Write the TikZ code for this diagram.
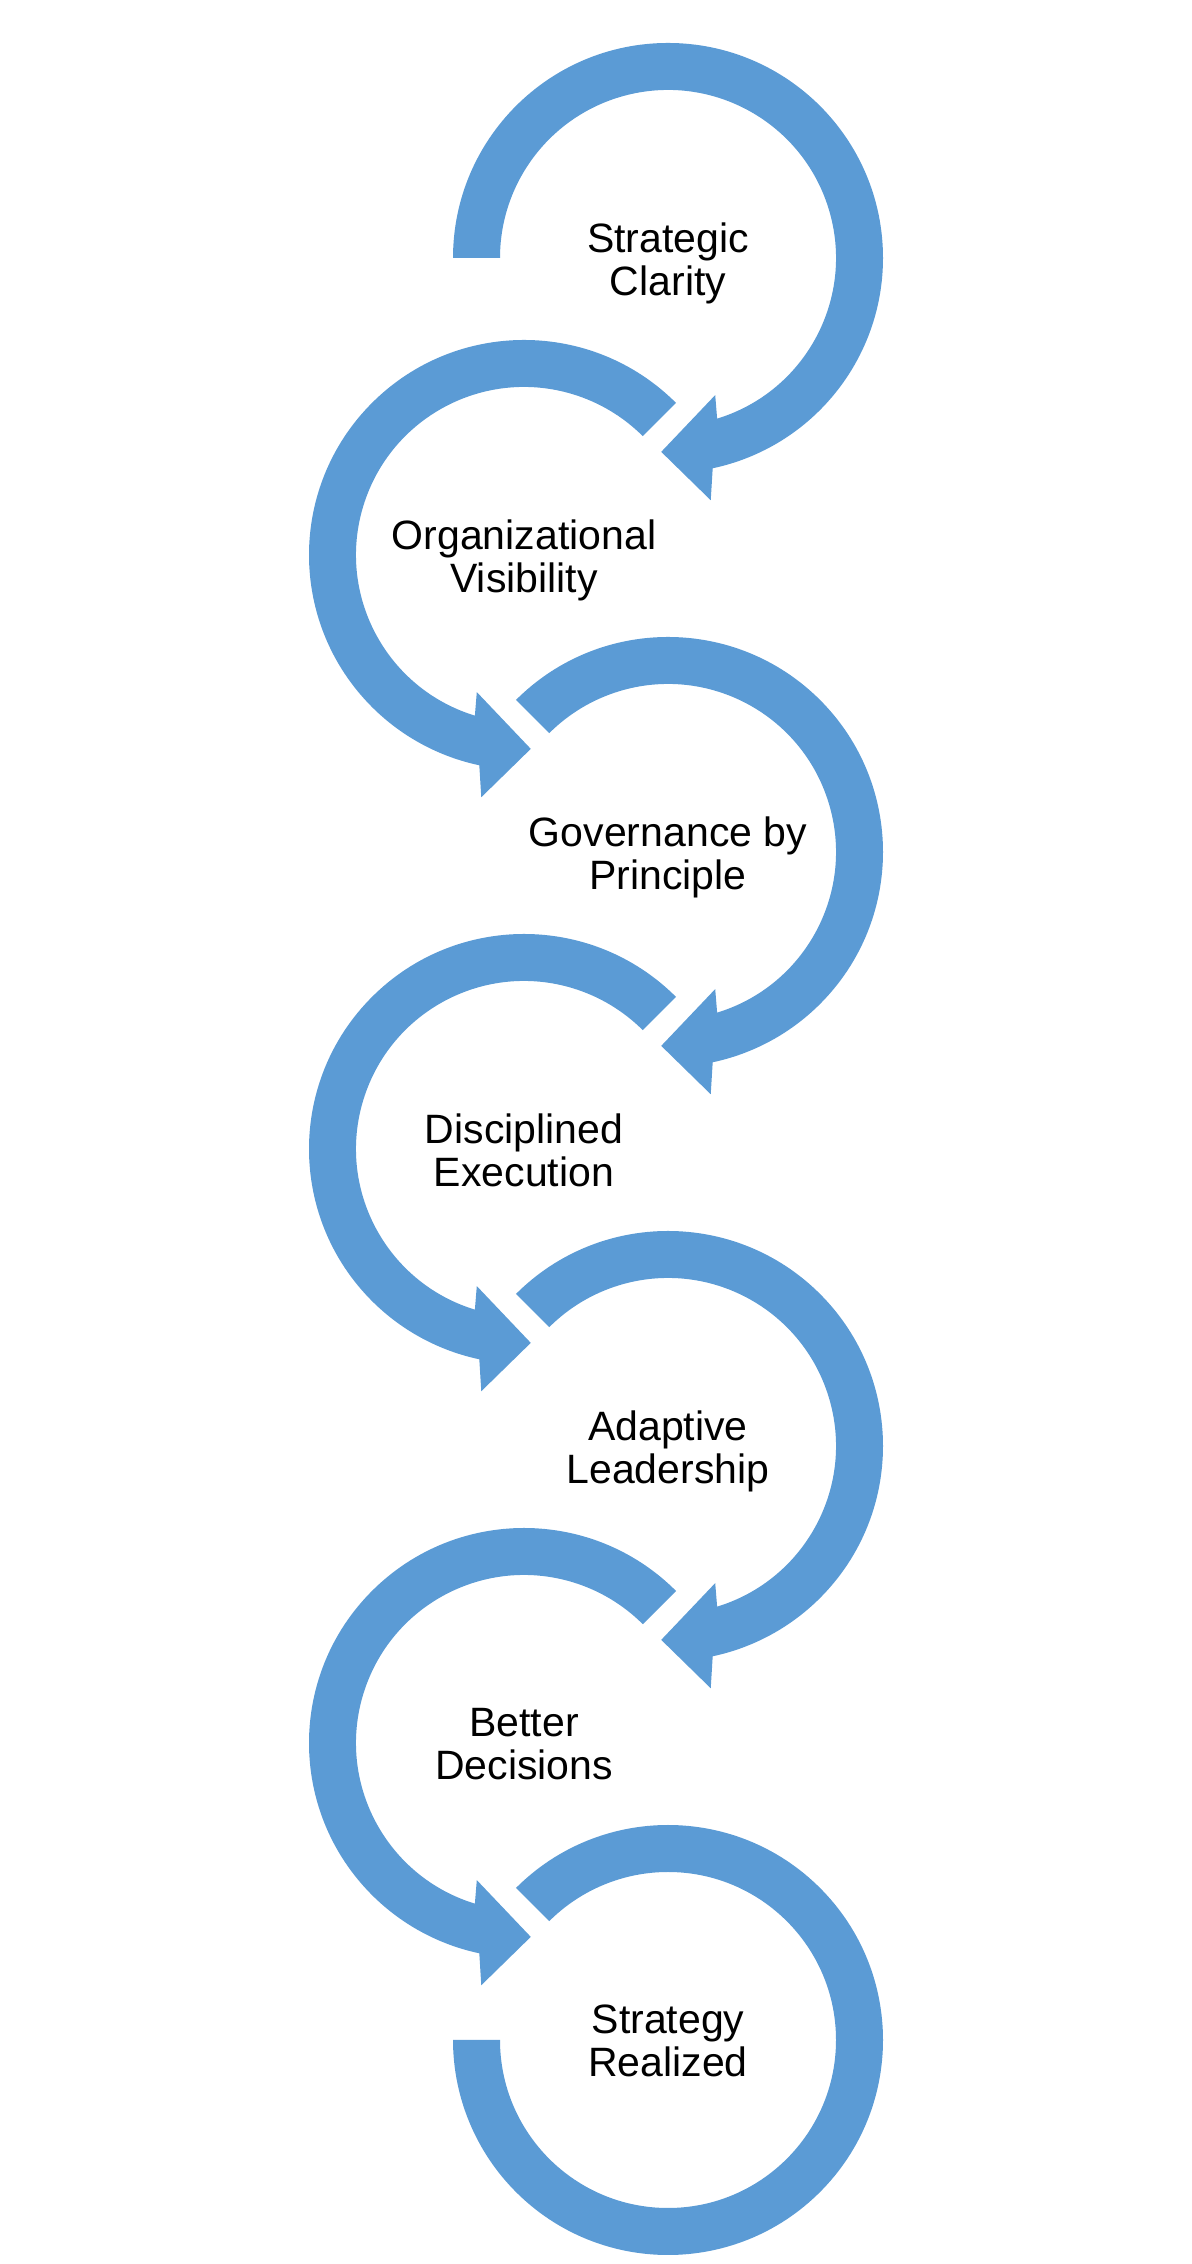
\documentclass[tikz,border=0pt]{standalone}
\usepackage{fontspec}
\setmainfont{Liberation Sans}
\usepackage{tikz}
\definecolor{loopblue}{RGB}{91, 155, 213}

% clockwise loop, #1 centre, #2 start angle
\newcommand{\cwloop}[2]{%
  \fill[loopblue, shift={#1}] (#2:215) arc[start angle=#2, end angle=-78, radius=215]
    -- (-80:246) -- (-92:194) -- (-71:145) -- (-73:168)
    arc[start angle=-73, end angle=#2, radius=168] -- cycle;}
% counter-clockwise loop, #1 centre
\newcommand{\ccwloop}[1]{%
  \fill[loopblue, shift={#1}] (45:215) arc[start angle=45, end angle=258, radius=215]
    -- (260:246) -- (272:194) -- (251:145) -- (253:168)
    arc[start angle=253, end angle=45, radius=168] -- cycle;}

\begin{document}
\begin{tikzpicture}[x=1pt, y=1pt,
    steplabel/.style={align=center, inner sep=0pt, anchor=north,
      font=\fontsize{41}{43}\selectfont}]
            \useasboundingbox (0,0) rectangle (1191,2264);

            % Loop centres
            \coordinate (c1) at (668,2006);
            \coordinate (c2) at (524,1709);
            \coordinate (c3) at (668,1412);
            \coordinate (c4) at (524,1115);
            \coordinate (c5) at (668,818);
            \coordinate (c6) at (524,521);
            \coordinate (c7) at (668,224);

            % Loops
            \cwloop{(c1)}{180}
            \ccwloop{(c2)}
            \cwloop{(c3)}{135}
            \ccwloop{(c4)}
            \cwloop{(c5)}{135}
            \ccwloop{(c6)}
            \fill[loopblue, shift={(c7)}] (135:215) arc[start angle=135, end angle=-180, radius=215]
              -- (180:168) arc[start angle=-180, end angle=135, radius=168] -- cycle;

            % Labels
            \node[steplabel] (clarity) at ([yshift=35pt]c1) {Strategic\\Clarity};
            \node[steplabel] (visibility) at ([yshift=35pt]c2) {Organizational\\Visibility};
            \node[steplabel] (governance) at ([yshift=35pt]c3) {Governance by\\Principle};
            \node[steplabel] (execution) at ([yshift=35pt]c4) {Disciplined\\Execution};
            \node[steplabel] (leadership) at ([yshift=35pt]c5) {Adaptive\\Leadership};
            \node[steplabel] (decisions) at ([yshift=35pt]c6) {Better\\Decisions};
            \node[steplabel] (realized) at ([yshift=35pt]c7) {Strategy\\Realized};
        \end{tikzpicture}
\end{document}
